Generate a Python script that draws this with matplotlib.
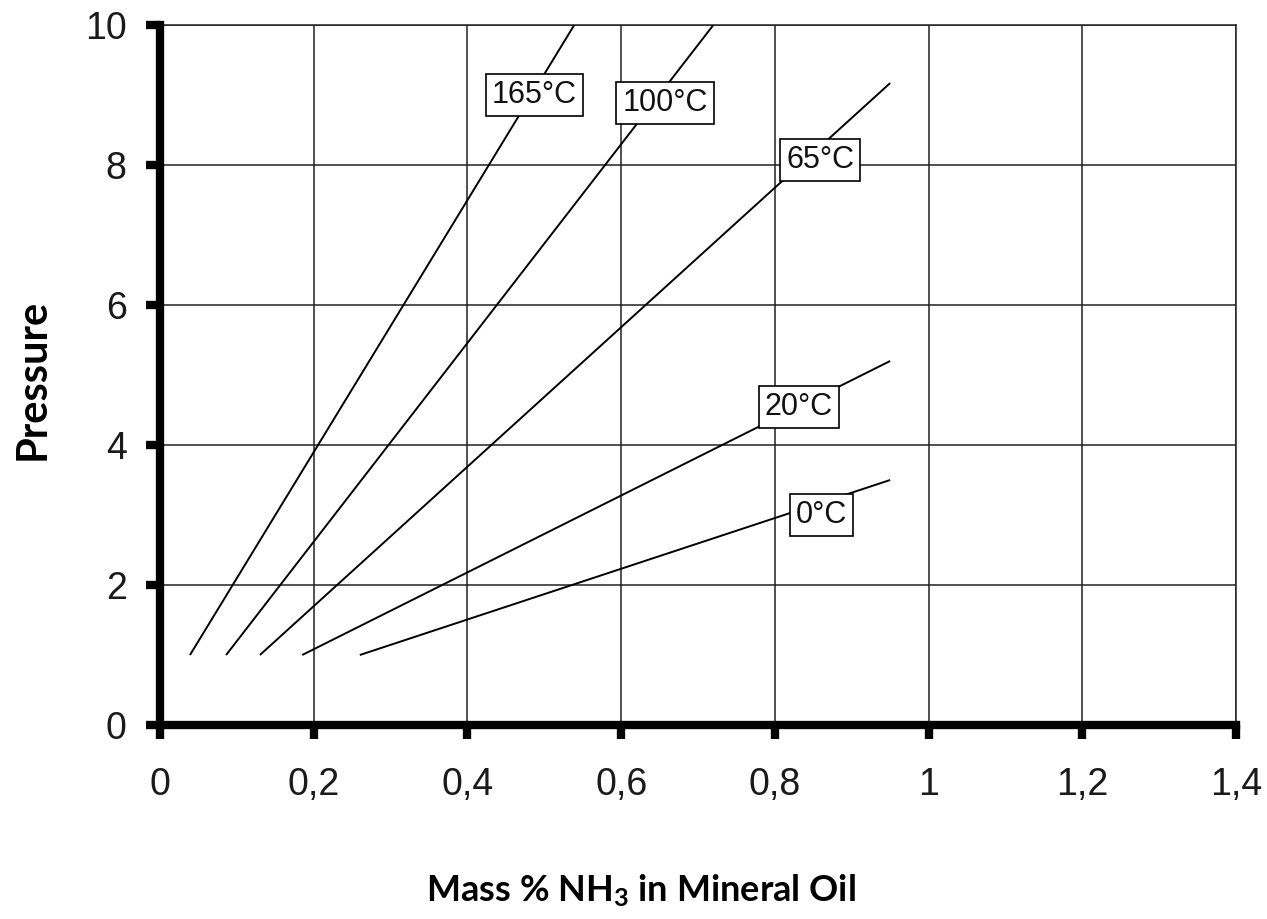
import matplotlib
matplotlib.use("Agg")
import matplotlib.pyplot as plt

# --- data -------------------------------------------------------------
temps = ["165°C", "100°C", "65°C", "20°C", "0°C"]
x_start = [0.039, 0.086, 0.130, 0.185, 0.260]
y_start = [1.0, 1.0, 1.0, 1.0, 1.0]
x_end = [0.539, 0.720, 0.950, 0.950, 0.950]
y_end = [10.0, 10.0, 9.17, 5.2, 3.5]
label_x = [0.487, 0.657, 0.859, 0.831, 0.861]
label_y = [9.0, 8.89, 8.07, 4.54, 3.0]

xticks = [0, 0.2, 0.4, 0.6, 0.8, 1.0, 1.2, 1.4]
xtick_labels = ["0", "0,2", "0,4", "0,6", "0,8", "1", "1,2", "1,4"]
yticks = [0, 2, 4, 6, 8, 10]
ytick_labels = ["0", "2", "4", "6", "8", "10"]

plt.rcParams['mathtext.default'] = 'regular'

fig = plt.figure(figsize=(12.67, 9.19), dpi=100)
ax = fig.add_axes([160/1267, 1-725/919, (1236-160)/1267, 700/919])

for xs, ys, xe, ye in zip(x_start, y_start, x_end, y_end):
    ax.plot([xs, xe], [ys, ye], color='black', lw=1.4, solid_capstyle='butt', zorder=3)

for t, lx, ly in zip(temps, label_x, label_y):
    ax.text(lx, ly, t, ha='center', va='center', fontsize=22,
            family='Liberation Sans', color='#111111', zorder=5,
            bbox=dict(boxstyle='square,pad=0.2', fc='white', ec='black', lw=1.2))

ax.set_xlim(0, 1.4)
ax.set_ylim(0, 10)
ax.set_xticks(xticks)
ax.set_xticklabels(xtick_labels)
ax.set_yticks(yticks)
ax.set_yticklabels(ytick_labels)
ax.grid(True, color='#222222', lw=1.1)
ax.set_axisbelow(True)

for s in ['left', 'bottom']:
    ax.spines[s].set_linewidth(6)
    ax.spines[s].set_color('black')
    ax.spines[s].set_zorder(6)
for s in ['top', 'right']:
    ax.spines[s].set_linewidth(1.1)
    ax.spines[s].set_color('#222222')

ax.tick_params(axis='both', direction='out', length=10, width=6, color='black',
               labelsize=27, labelcolor='#1a1a1a')
ax.tick_params(axis='x', pad=20)
ax.tick_params(axis='y', pad=14)
for lab in ax.get_xticklabels() + ax.get_yticklabels():
    lab.set_family('Liberation Sans')

fig.text(641/1267, 1-891/919, "Mass % NH$_3$ in Mineral Oil", ha='center', va='center',
         fontsize=26, fontweight='bold', family='Lato', color='black')
fig.text(33/1267, 1-379/919, "Pressure", ha='center', va='center', rotation=90,
         fontsize=30, fontweight='bold', family='Lato', color='black')

fig.savefig("out.png", dpi=100)
